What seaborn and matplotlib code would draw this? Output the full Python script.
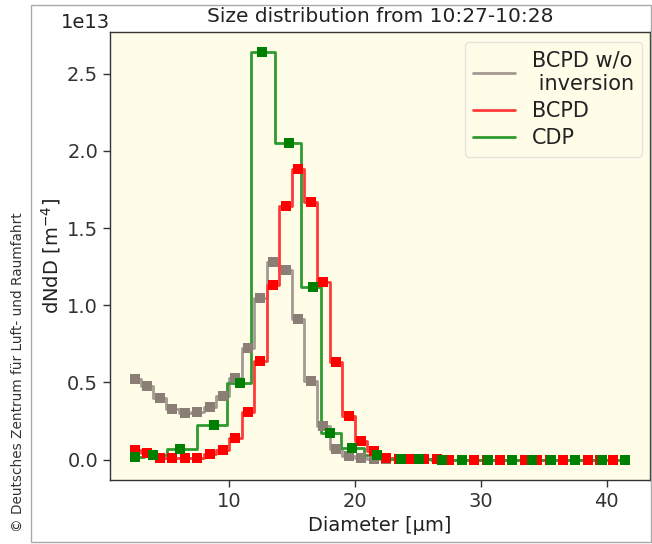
import matplotlib
matplotlib.use("Agg")
import matplotlib.pyplot as plt
from matplotlib.patches import Rectangle
import seaborn as sns
import pandas as pd

# ---- data (values in units of 1e13 m^-4) ----
bcpd_x = [2.5, 3.5, 4.5, 5.5, 6.5, 7.5, 8.5, 9.5, 10.5, 11.5, 12.5, 13.5, 14.5,
          15.5, 16.5, 17.5, 18.5, 19.5, 20.5, 21.5, 22.5, 23.5, 24.5, 25.5, 26.5,
          27.5, 28.5, 29.5, 30.5, 31.5, 32.5, 33.5, 34.5, 35.5, 36.5, 37.5, 38.5,
          39.5, 40.5]
bcpd_raw = [0.52, 0.48, 0.40, 0.325, 0.30, 0.31, 0.34, 0.41, 0.53, 0.72, 1.045,
            1.28, 1.23, 0.91, 0.51, 0.22, 0.07, 0.025, 0.013, 0.006, 0.003, 0.002,
            0.001, 0.001, 0.001, 0.0, 0.0, 0.0, 0.0, 0.0, 0.0, 0.0, 0.0, 0.0, 0.0,
            0.0, 0.0, 0.0, 0.0]
bcpd = [0.06, 0.04, 0.013, 0.013, 0.013, 0.013, 0.034, 0.065, 0.14, 0.31, 0.64,
        1.13, 1.645, 1.88, 1.67, 1.15, 0.63, 0.285, 0.12, 0.058, 0.011, 0.004,
        0.002, 0.001, 0.001, 0.0, 0.0, 0.0, 0.0, 0.0, 0.0, 0.0, 0.0, 0.0, 0.0,
        0.0, 0.0, 0.0, 0.0]
cdp_x = [2.5, 3.96, 6.12, 8.84, 10.87, 12.61, 14.75, 16.69, 18.0, 19.76, 21.77,
         23.67, 25.12, 26.92, 28.55, 30.55, 32.51, 34.09, 35.55, 37.53, 39.64, 41.45]
cdp = [0.019, 0.028, 0.067, 0.226, 0.497, 2.638, 2.052, 1.121, 0.172, 0.078,
       0.028, 0.006, 0.002, 0.0, 0.0, 0.0, 0.0, 0.0, 0.0, 0.0, 0.0, 0.0]
labels = ["BCPD w/o\n inversion", "BCPD", "CDP"]
title = "Size distribution from 10:27-10:28"
scale = 1e13

sns.set_theme(style="ticks")
plt.rcParams["font.family"] = ["DejaVu Sans"]

W, H = 652, 544
fig = plt.figure(figsize=(W / 100, H / 100), dpi=100)
fig.patch.set_facecolor("white")
ax = fig.add_axes([110 / W, 1 - 480 / H, (650 - 110) / W, (480 - 32) / H])
ax.set_facecolor("#fffde8")

series = [
    (bcpd_x, bcpd_raw, labels[0], "#a39a93", "#8a7e75"),
    (bcpd_x, bcpd, labels[1], "#ff3a3a", "#ff0000"),
    (cdp_x, cdp, labels[2], "#2f9a2f", "#008000"),
]
for xs, ys, lab, lc, mc in series:
    df = pd.DataFrame({"x": xs, "y": [v * scale for v in ys]})
    sns.lineplot(data=df, x="x", y="y", ax=ax, drawstyle="steps-mid",
                 color=lc, lw=2, label=lab, sort=False, estimator=None)
    sns.scatterplot(data=df, x="x", y="y", ax=ax, marker="s", s=42,
                    color=mc, linewidth=0, legend=False, zorder=3)

ax.set_xlim(0.55, 43.45)
ax.set_ylim(-0.132 * scale, 2.77 * scale)
ax.set_xticks([10, 20, 30, 40])
ax.set_yticks([0, 0.5e13, 1.0e13, 1.5e13, 2.0e13, 2.5e13])
ax.tick_params(labelsize=14, length=5, width=1, colors="#333333")
ax.yaxis.get_offset_text().set_fontsize(14)
ax.yaxis.get_offset_text().set_color("#222222")
ax.yaxis.get_offset_text().set_horizontalalignment("right")
for sp in ax.spines.values():
    sp.set_visible(True)
    sp.set_color("#333333")
    sp.set_linewidth(1)

ax.set_xlabel("Diameter [µm]", fontsize=14, color="#222222", labelpad=4)
ax.set_ylabel("dNdD [m$^{-4}$]", fontsize=14, color="#222222", labelpad=3)
ax.set_title(title, fontsize=14.5, color="#222222", pad=7)

leg = ax.legend(loc="upper right", fontsize=15, frameon=True, fancybox=True,
                handlelength=2, borderaxespad=0.38, labelspacing=0.35,
                bbox_to_anchor=(1.0, 0.995))
leg.get_frame().set_facecolor("#fffde8")
leg.get_frame().set_edgecolor("#dddddd")
for t in leg.get_texts():
    t.set_color("#222222")

fig.text(18 / W, 1 - 372 / H, "© Deutsches Zentrum für Luft- und Raumfahrt",
         rotation=90, ha="center", va="center", fontsize=9.8, color="#333333")
fig.patches.append(Rectangle((30.5 / W, 1 - 542 / H), (651 - 30.5) / W, (542 - 4.5) / H,
                             transform=fig.transFigure, fill=False,
                             edgecolor="#aaaaaa", lw=1))

fig.savefig("out.png", dpi=100)
